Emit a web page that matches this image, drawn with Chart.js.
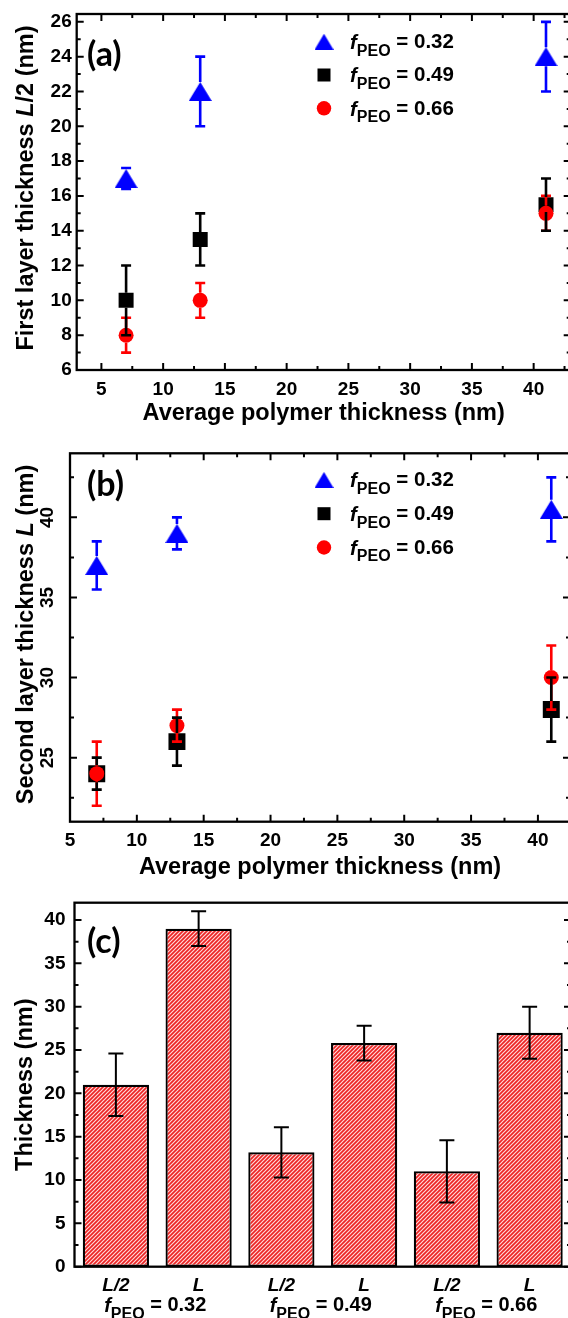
<!DOCTYPE html>
<html><head><meta charset="utf-8">
<script src="https://cdn.jsdelivr.net/npm/chart.js@4.4.0/dist/chart.umd.min.js"></script>
<style>
html,body{margin:0;padding:0;background:#fff;overflow:hidden;width:568px;height:1318px;}
#wrap{position:relative;width:568px;height:1318px;overflow:hidden;background:#fff;}
.pane{position:absolute;left:0;}
canvas{display:block;}
</style></head><body>
<div id="wrap">
<div class="pane" style="top:0"><canvas id="cA"></canvas></div>
<div class="pane" style="top:430px"><canvas id="cB"></canvas></div>
<div class="pane" style="top:880px"><canvas id="cC"></canvas></div>
</div>
<script>
// ---------------- data ----------------
const fpeo = ['0.32', '0.49', '0.66'];
// panel (a): first layer thickness L/2
const xA = [7, 13, 41];
const a032 = [17, 22, 24];
const a032Err = [0.6, 2, 2];
const a049 = [10, 13.5, 15.5];
const a049Err = [2, 1.5, 1.5];
const a066 = [8, 10, 15];
const a066Err = [1, 1, 1];
// panel (b): second layer thickness L
const xB = [7, 13, 41];
const b032 = [37, 39, 40.5];
const b032Err = [1.5, 1, 2];
const b049 = [24, 26, 28];
const b049Err = [1, 1.5, 2];
const b066 = [24, 27, 30];
const b066Err = [2, 1, 2];
// panel (c): bar chart
const barLabels = ['L/2', 'L', 'L/2', 'L', 'L/2', 'L'];
const barValues = [21, 39, 13.2, 25.8, 11, 27];
const barErr = [3.6, 2, 2.9, 2, 3.6, 3];
// tick labels
const xTicksAB = [5, 10, 15, 20, 25, 30, 35, 40];
const yTicksA = [6, 8, 10, 12, 14, 16, 18, 20, 22, 24, 26];
const yTicksB = [25, 30, 35, 40];
const yTicksC = [0, 5, 10, 15, 20, 25, 30, 35, 40];

// ---------------- styling ----------------
const FONT = "'Liberation Sans', Arial, Helvetica, sans-serif";
const TICKF = {family: FONT, size: 19, weight: 'bold'};
const TITLEF = {family: FONT, size: 23.5, weight: 'bold'};
const W = 600;
const geoA = {H: 430, L: 76.7, T: 14, R: 570.7, B: 370};
const geoB = {H: 454, L: 70, T: 23.3, R: 570, B: 391.7};
const geoC = {H: 438, L: 74.5, T: 22.7, R: 571, B: 386.7};

function minorOf(major, lo, hi) {
  const step = major[1] - major[0];
  const out = [];
  for (let v = major[0] - step / 2; v <= hi + 1e-9; v += step / 2) {
    if (v >= lo - 1e-9 && major.every(m => Math.abs(m - v) > 1e-6)) out.push(v);
  }
  return out;
}

// triangle marker image, centred on its bounding box (like the original)
function triangleImg(w, h, color) {
  const c = document.createElement('canvas');
  c.width = w; c.height = h;
  const g = c.getContext('2d');
  g.fillStyle = color;
  g.beginPath();
  g.moveTo(w / 2, 0); g.lineTo(w, h); g.lineTo(0, h); g.closePath();
  g.fill();
  return c;
}
const triBig = triangleImg(23, 19, '#0000ff');
const triLegend = triangleImg(19, 16, '#0000ff');

function markerPath(ctx, style, r, x, y) {
  ctx.beginPath();
  if (style === 'rect') {
    const s = Math.SQRT1_2 * r;
    ctx.rect(x - s, y - s, 2 * s, 2 * s);
  } else {
    ctx.arc(x, y, r, 0, Math.PI * 2);
  }
}

// draws "f_PEO = value" with italic f and subscript
function drawFpeo(ctx, value, x, y, size, align) {
  const runs = [
    {t: 'f', font: `italic bold ${size}px ${FONT}`, dy: 0},
    {t: 'PEO', font: `bold ${Math.round(size * 0.78)}px ${FONT}`, dy: size * 0.32},
    {t: ' = ' + value, font: `bold ${size}px ${FONT}`, dy: -size * 0.05}
  ];
  let total = 0;
  runs.forEach(r => { ctx.font = r.font; r.w = ctx.measureText(r.t).width; total += r.w; });
  let cx = align === 'center' ? x - total / 2 : x;
  ctx.textBaseline = 'alphabetic';
  ctx.textAlign = 'left';
  const base = y + size * 0.36;
  runs.forEach(r => { ctx.font = r.font; ctx.fillText(r.t, cx, base + r.dy); cx += r.w; });
}

// ---------------- plugins ----------------
const frameTicks = {
  id: 'frameTicks',
  afterDraw(chart, args, o) {
    const {ctx, chartArea: ca, scales} = chart;
    ctx.save();
    ctx.strokeStyle = '#000';
    ctx.lineWidth = 2;
    ctx.lineCap = 'butt';
    ctx.beginPath();
    const xs = scales.x, ys = scales.y;
    const vt = (v, len) => {
      const p = xs.getPixelForValue(v);
      ctx.moveTo(p, ca.bottom); ctx.lineTo(p, ca.bottom - len);
      ctx.moveTo(p, ca.top); ctx.lineTo(p, ca.top + len);
    };
    const ht = (v, len) => {
      const p = ys.getPixelForValue(v);
      ctx.moveTo(ca.left, p); ctx.lineTo(ca.left + len, p);
      ctx.moveTo(ca.right, p); ctx.lineTo(ca.right - len, p);
    };
    (o.xMajor || []).forEach(v => vt(v, 7));
    (o.xMinor || []).forEach(v => vt(v, 4));
    (o.yMajor || []).forEach(v => ht(v, 7));
    (o.yMinor || []).forEach(v => ht(v, 4));
    ctx.stroke();
    ctx.lineWidth = 2.3;
    ctx.strokeRect(ca.left, ca.top, ca.right - ca.left, ca.bottom - ca.top);
    ctx.restore();
  }
};

const errorBars = {
  id: 'errorBars',
  afterDatasetsDraw(chart, args, o) {
    const {ctx} = chart;
    const ys = chart.scales.y;
    const order = o.drawOrder || chart.data.datasets.map((d, i) => i);
    ctx.save();
    ctx.lineCap = 'butt';
    order.forEach(di => {
      const ds = chart.data.datasets[di];
      if (!ds.errorBars) return;
      const meta = chart.getDatasetMeta(di);
      ctx.strokeStyle = ds.errColor || ds.borderColor;
      ctx.lineWidth = o.lw;
      meta.data.forEach((el, i) => {
        const d = ds.data[i];
        const v = (typeof d === 'object') ? d.y : d;
        const e = ds.errorBars[i];
        const x = el.x, y = ys.getPixelForValue(v);
        const yt = ys.getPixelForValue(v + e), yb = ys.getPixelForValue(v - e);
        const g = ds.errGap || 0, c = o.cap / 2;
        ctx.beginPath();
        if (yt < y - g) { ctx.moveTo(x, y - g); ctx.lineTo(x, yt); }
        if (yb > y + g) { ctx.moveTo(x, y + g); ctx.lineTo(x, yb); }
        ctx.moveTo(x - c, yt); ctx.lineTo(x + c, yt);
        ctx.moveTo(x - c, yb); ctx.lineTo(x + c, yb);
        ctx.stroke();
      });
    });
    ctx.restore();
  }
};

const decor = {
  id: 'decor',
  afterDraw(chart, args, o) {
    const {ctx} = chart;
    ctx.save();
    ctx.fillStyle = '#000';
    if (o.panel) {
      ctx.font = `bold 34px Lato, 'Open Sans', sans-serif`;
      ctx.textAlign = 'left';
      ctx.textBaseline = 'middle';
      ctx.fillText(o.panel.text, o.panel.x, o.panel.y);
    }
    if (o.legend) {
      const L = o.legend;
      L.items.forEach((it, k) => {
        const y = L.y0 + k * L.dy;
        if (it.img) {
          ctx.drawImage(it.img, L.mx - it.img.width / 2, y - it.img.height / 2);
        } else {
          ctx.fillStyle = it.color;
          markerPath(ctx, it.style, it.r, L.mx, y);
          ctx.fill();
        }
        ctx.fillStyle = '#000';
        drawFpeo(ctx, it.text, L.tx, y, L.size, 'left');
      });
    }
    if (o.yTitle) {
      const T = o.yTitle;
      const ca = chart.chartArea;
      const cy = (ca.top + ca.bottom) / 2 + (T.dy || 0);
      ctx.translate(T.x, cy);
      ctx.rotate(-Math.PI / 2);
      let total = 0;
      T.runs.forEach(r => { ctx.font = `${r.i ? 'italic ' : ''}bold ${T.size}px ${FONT}`; r.w = ctx.measureText(r.t).width; total += r.w; });
      let cx = -total / 2;
      ctx.textBaseline = 'middle';
      ctx.textAlign = 'left';
      ctx.fillStyle = '#000';
      T.runs.forEach(r => { ctx.font = `${r.i ? 'italic ' : ''}bold ${T.size}px ${FONT}`; ctx.fillText(r.t, cx, 0); cx += r.w; });
      ctx.setTransform(1, 0, 0, 1, 0, 0);
    }
    if (o.groups) {
      const xs = chart.scales.x;
      o.groups.values.forEach((g, k) => {
        const x = (xs.getPixelForValue(2 * k) + xs.getPixelForValue(2 * k + 1)) / 2 + (o.groups.dx || 0);
        drawFpeo(ctx, g, x, o.groups.y, o.groups.size, 'center');
      });
    }
    ctx.restore();
  }
};

function baseOptions(geo, xCfg, yCfg, pluginsCfg) {
  return {
    responsive: false, animation: false, devicePixelRatio: 1,
    layout: {padding: {top: geo.T, right: W - geo.R, left: 0, bottom: 0}},
    events: [],
    plugins: Object.assign({legend: {display: false}, tooltip: {enabled: false}}, pluginsCfg),
    scales: {
      x: Object.assign({
        grid: {display: false, drawTicks: false}, border: {display: false},
        afterFit(s) { s.height = geo.H - geo.B; s.paddingLeft = 0; s.paddingRight = 0; }
      }, xCfg),
      y: Object.assign({
        grid: {display: false, drawTicks: false}, border: {display: false},
        afterFit(s) { s.width = geo.L; s.paddingTop = 0; s.paddingBottom = 0; }
      }, yCfg)
    }
  };
}

function setup(id, geo) {
  const c = document.getElementById(id);
  c.width = W; c.height = geo.H;
  c.style.width = W + 'px'; c.style.height = geo.H + 'px';
  return c;
}

function scatterSets(xs, list) {
  return list.map(s => ({
    label: s.label,
    data: xs.map((x, i) => ({x: x, y: s.y[i]})),
    errorBars: s.err, errGap: s.gap,
    pointStyle: s.style, pointRadius: s.r, pointHoverRadius: s.r,
    backgroundColor: s.color, borderColor: s.color, borderWidth: 0,
    order: s.order, showLine: false
  }));
}

const legendItems = [
  {img: triLegend, text: fpeo[0]},
  {style: 'rect', r: 9.2, color: '#000000', text: fpeo[1]},
  {style: 'circle', r: 7.2, color: '#ff0000', text: fpeo[2]}
];

// ---------------- panel (a) ----------------
new Chart(setup('cA', geoA), {
  type: 'scatter',
  data: {datasets: scatterSets(xA, [
    {label: 'fPEO = ' + fpeo[0], y: a032, err: a032Err, style: triBig, r: 12, color: '#0000ff', order: 2, gap: 9.5},
    {label: 'fPEO = ' + fpeo[1], y: a049, err: a049Err, style: 'rect', r: 10.6, color: '#000000', order: 1, gap: 7.5},
    {label: 'fPEO = ' + fpeo[2], y: a066, err: a066Err, style: 'circle', r: 7.5, color: '#ff0000', order: 0, gap: 7.5}
  ])},
  options: baseOptions(geoA,
    {type: 'linear', min: 3, max: 43,
     afterBuildTicks(s) { s.ticks = xTicksAB.map(v => ({value: v})); },
     ticks: {font: TICKF, color: '#000', padding: 8, autoSkip: false, maxRotation: 0},
     title: {display: true, text: 'Average polymer thickness (nm)', font: TITLEF, color: '#000', padding: {top: 0, bottom: 2}}},
    {type: 'linear', min: 6, max: 26.45,
     afterBuildTicks(s) { s.ticks = yTicksA.map(v => ({value: v})); },
     ticks: {font: TICKF, color: '#000', padding: 5, autoSkip: false}},
    {
      frameTicks: {xMajor: xTicksAB, xMinor: minorOf(xTicksAB, 3, 43), yMajor: yTicksA, yMinor: minorOf(yTicksA, 6, 26.45)},
      errorBars: {lw: 2.6, cap: 10, drawOrder: [0, 2, 1]},
      decor: {
        panel: {text: '(a)', x: 87, y: 55},
        legend: {mx: 324, tx: 350, y0: 41.7, dy: 33.3, size: 20.5, items: legendItems},
        yTitle: {x: 27, size: 23.5, dy: -4, runs: [{t: 'First layer thickness '}, {t: 'L', i: true}, {t: '/2 (nm)'}]}
      }
    }),
  plugins: [frameTicks, errorBars, decor]
});

// ---------------- panel (b) ----------------
new Chart(setup('cB', geoB), {
  type: 'scatter',
  data: {datasets: scatterSets(xB, [
    {label: 'fPEO = ' + fpeo[0], y: b032, err: b032Err, style: triBig, r: 12, color: '#0000ff', order: 2, gap: 9.5},
    {label: 'fPEO = ' + fpeo[1], y: b049, err: b049Err, style: 'rect', r: 12, color: '#000000', order: 1, gap: 8.5},
    {label: 'fPEO = ' + fpeo[2], y: b066, err: b066Err, style: 'circle', r: 7.5, color: '#ff0000', order: 0, gap: 7.5}
  ])},
  options: baseOptions(geoB,
    {type: 'linear', min: 5, max: 42.4,
     afterBuildTicks(s) { s.ticks = xTicksAB.map(v => ({value: v})); },
     ticks: {font: TICKF, color: '#000', padding: 8, autoSkip: false, maxRotation: 0},
     title: {display: true, text: 'Average polymer thickness (nm)', font: TITLEF, color: '#000', padding: {top: 0, bottom: 2}}},
    {type: 'linear', min: 21, max: 44,
     afterBuildTicks(s) { s.ticks = yTicksB.map(v => ({value: v})); },
     ticks: {font: TICKF, color: '#000', padding: 22, autoSkip: false, minRotation: 90, maxRotation: 90, labelOffset: -10.5}},
    {
      frameTicks: {xMajor: xTicksAB, xMinor: minorOf(xTicksAB, 5, 42.4), yMajor: yTicksB, yMinor: minorOf(yTicksB, 21, 44)},
      errorBars: {lw: 2.6, cap: 10, drawOrder: [0, 2, 1]},
      decor: {
        panel: {text: '(b)', x: 87, y: 55.5},
        legend: {mx: 324, tx: 350, y0: 49.9, dy: 33.8, size: 20.5, items: legendItems},
        yTitle: {x: 27, size: 23.5, dy: -3, runs: [{t: 'Second layer thickness '}, {t: 'L', i: true}, {t: ' (nm)'}]}
      }
    }),
  plugins: [frameTicks, errorBars, decor]
});

// ---------------- panel (c) ----------------
function hatch() {
  const s = 4;
  const c = document.createElement('canvas');
  c.width = s; c.height = s;
  const g = c.getContext('2d');
  g.fillStyle = '#ec2424';
  g.fillRect(0, 0, s, s);
  g.strokeStyle = '#ffd8d8';
  g.lineWidth = 1.2;
  g.beginPath();
  g.moveTo(0, s); g.lineTo(s, 0);
  g.moveTo(-1, 1); g.lineTo(1, -1);
  g.moveTo(s - 1, s + 1); g.lineTo(s + 1, s - 1);
  g.stroke();
  return g.createPattern(c, 'repeat');
}

new Chart(setup('cC', geoC), {
  type: 'bar',
  data: {labels: barLabels, datasets: [{
    label: 'Thickness', data: barValues, errorBars: barErr, errGap: 0, errColor: '#000',
    backgroundColor: hatch(), borderColor: '#000', borderWidth: 2.2, borderSkipped: false,
    barPercentage: 0.8, categoryPercentage: 1
  }]},
  options: baseOptions(geoC,
    {type: 'category', offset: true,
     ticks: {font: {family: FONT, size: 19, weight: 'bold', style: 'italic'}, color: '#000', padding: 8, autoSkip: false, maxRotation: 0}},
    {type: 'linear', min: 0, max: 42,
     afterBuildTicks(s) { s.ticks = yTicksC.map(v => ({value: v})); },
     ticks: {font: TICKF, color: '#000', padding: 9, autoSkip: false},
     title: {display: true, text: 'Thickness (nm)', font: TITLEF, color: '#000', padding: {top: 11, bottom: 0}}},
    {
      frameTicks: {yMajor: yTicksC, yMinor: minorOf(yTicksC, 0, 42)},
      errorBars: {lw: 2, cap: 15},
      decor: {
        panel: {text: '(c)', x: 87, y: 62},
        groups: {values: fpeo, y: 425, size: 20, dx: -2}
      }
    }),
  plugins: [frameTicks, errorBars, decor]
});
</script>
</body></html>
